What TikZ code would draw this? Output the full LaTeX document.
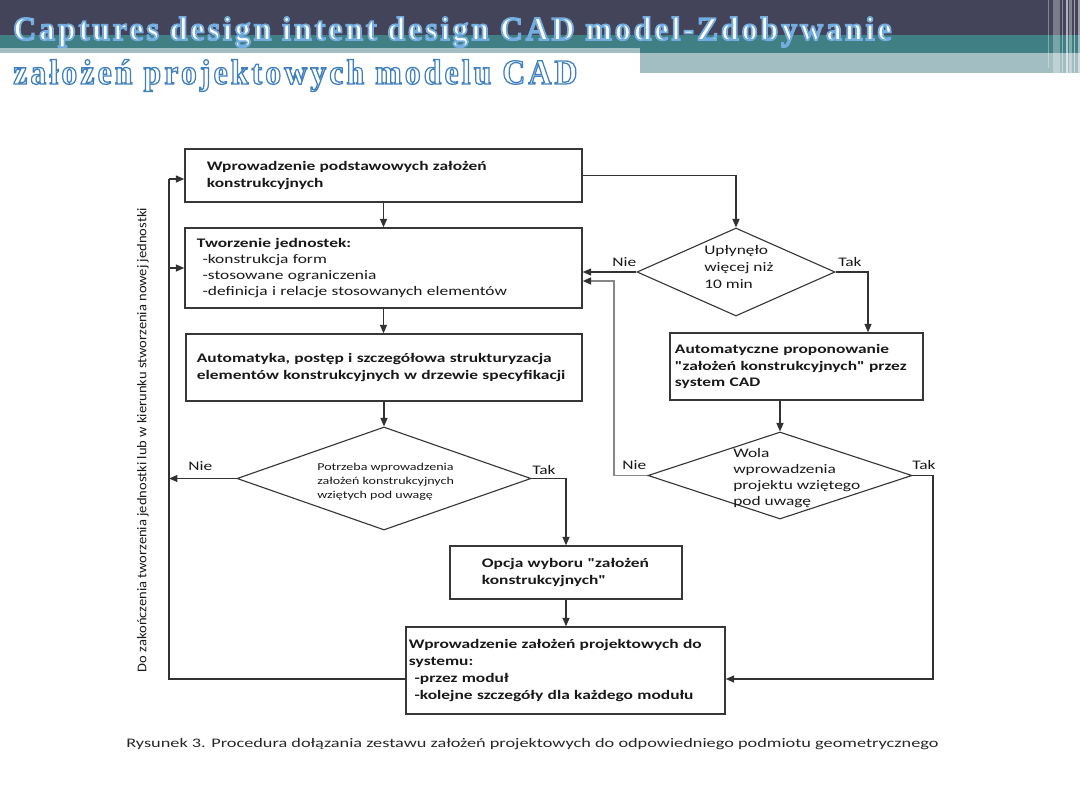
\documentclass[tikz,border=0pt]{standalone}
\usepackage{fontspec}
\usepackage{graphicx}
\setmainfont{Carlito}
\newfontfamily\calib[FakeStretch=1.33]{Carlito}
\newfontfamily\tnrc[FakeStretch=0.92,LetterSpace=9]{Liberation Serif}
\usetikzlibrary{arrows.meta,shapes.geometric}
\definecolor{darkband}{RGB}{67,67,89}
\definecolor{tealband}{RGB}{64,127,132}
\definecolor{lightband}{RGB}{163,190,194}
\definecolor{linec}{RGB}{50,50,50}
\definecolor{boxc}{RGB}{55,55,55}
\definecolor{greyline}{RGB}{135,135,135}
\definecolor{txt}{RGB}{25,25,25}
% outlined text: #1 stroke colour as "r g b", #2 stroke width (bp), #3 text
\newcommand\outl[3]{{\special{pdf:literal direct 2 Tr #2 w #1 RG}#3\special{pdf:literal direct 0 Tr}}}
\begin{document}
\begin{tikzpicture}[x=0.025cm,y=-0.025cm,
  box/.style={draw=boxc, line width=1pt, rectangle, inner ysep=0pt, align=left,
    font=\calib\bfseries\fontsize{9.3}{12}\selectfont, text=txt},
  dia/.style={diamond, draw=boxc, line width=0.8pt, inner sep=0pt},
  dtext/.style={anchor=north west, inner sep=0pt, align=left, text=txt,
    font=\calib\fontsize{9.3}{12}\selectfont},
  lbl/.style={anchor=base west, inner sep=0pt, text=txt, font=\calib\fontsize{9.3}{12}\selectfont},
  arr/.style={draw=linec, line width=0.9pt, -{Triangle[length=6pt,width=5pt]}},
  plain/.style={draw=linec, line width=0.9pt},
  arrg/.style={draw=greyline, line width=1.2pt, -{Triangle[length=6pt,width=5pt,color=linec]}},
  ttl/.style={anchor=base west, inner sep=0pt, text=white}
]
\useasboundingbox (0,0) rectangle (1080,810);
\fill[white] (0,0) rectangle (1080,810);
% header
\fill[darkband] (0,0) rectangle (1080,35);
\fill[tealband] (0,35) rectangle (1080,53);
\fill[lightband] (0,48) rectangle (640,53);
\fill[lightband] (640,53) rectangle (1080,73);
\fill[white,opacity=0.35] (1047.5,0) rectangle (1049,68);
\fill[white,opacity=0.3] (1053,0) rectangle (1060,73);
\fill[white,opacity=0.4] (1061.5,0) rectangle (1063,73);
\fill[white,opacity=0.6] (1066,0) rectangle (1067.5,73);
\fill[white,opacity=0.35] (1069,0) rectangle (1072,73);
\fill[white,opacity=0.5] (1073.5,0) rectangle (1075,73);
\fill[white,opacity=0.5] (1078,0) rectangle (1080,73);
\node (title1) [ttl, font=\tnrc\bfseries\fontsize{23.7}{28}\selectfont] at (13,40)
  {\resizebox{21.95cm}{\height}{\outl{0.45 0.68 0.88}{1.2}{Captures design intent design CAD model-Zdobywanie}}};
\node (title2) [ttl, font=\tnrc\bfseries\fontsize{25}{30}\selectfont] at (13,84)
  {\resizebox{14.1cm}{\height}{\outl{0.25 0.50 0.75}{0.9}{założeń projektowych modelu CAD}}};
% boxes
\node[box, minimum width=9.925cm, minimum height=1.325cm, text width=8.825cm, inner xsep=0.55cm] (b1) at (383.5,175.5)
  {Wprowadzenie podstawowych założeń\\konstrukcyjnych};
\node[box, minimum width=9.925cm, minimum height=2cm, text width=9.325cm, inner xsep=0.3cm,
  font=\calib\fontsize{9.3}{11.6}\selectfont] (b2) at (383.5,268)
  {\textbf{Tworzenie jednostek:}\\\hspace*{4pt}-konstrukcja form\\\hspace*{4pt}-stosowane ograniczenia\\\hspace*{4pt}-definicja i relacje stosowanych elementów};
\node[box, minimum width=9.9cm, minimum height=1.675cm, text width=9.35cm, inner xsep=0.275cm] (b3) at (384,367.5)
  {\mbox{Automatyka, postęp i szczegółowa strukturyzacja}\\\mbox{elementów konstrukcyjnych w drzewie specyfikacji}};
\node[box, minimum width=5.8cm, minimum height=1.325cm, text width=4.2cm, inner xsep=0.8cm] (b4) at (566,572.5)
  {\mbox{Opcja wyboru "założeń}\\konstrukcyjnych"};
\node[box, minimum width=7.975cm, minimum height=2.175cm, text width=7.825cm, inner xsep=0.075cm] (b5) at (565.5,670.5)
  {\mbox{Wprowadzenie założeń projektowych do}\\systemu:\\\hspace*{4pt}-przez moduł\\\hspace*{4pt}\mbox{-kolejne szczegóły dla każdego modułu}};
\node[box, minimum width=6.325cm, minimum height=1.675cm, text width=6.075cm, inner xsep=0.125cm] (b6) at (796.5,366.5)
  {Automatyczne proponowanie\\\mbox{"założeń konstrukcyjnych" przez}\\system CAD};
% diamonds
\node[dia, minimum width=7.35cm, minimum height=2.575cm] (d1) at (384,478.5) {};
\node[dia, minimum width=4.95cm, minimum height=2.2cm] (d2) at (736,272) {};
\node[dia, minimum width=6.6cm, minimum height=2.175cm] (d3) at (780,475.5) {};
\node[dtext, font=\calib\fontsize{7.5}{10}\selectfont] (d1t) at (317,463)
  {Potrzeba wprowadzenia\\założeń konstrukcyjnych\\wziętych pod uwagę};
\node[dtext] (d2t) at (704,245) {Upłynęło\\więcej niż\\10 min};
\node[dtext, font=\calib\fontsize{9.3}{11.4}\selectfont] (d3t) at (733,448)
  {Wola\\wprowadzenia\\projektu wziętego\\pod uwagę};
% labels
\node[lbl] (n1) at (188,470) {Nie};
\node[lbl] (k1) at (532,474) {Tak};
\node[lbl] (n2) at (612,266) {Nie};
\node[lbl] (k2) at (838,266) {Tak};
\node[lbl] (n3) at (622,469) {Nie};
\node[lbl] (k3) at (912,469) {Tak};
% side text and caption
\node (side) [rotate=90, inner sep=0pt, text=txt, font=\fontsize{9.5}{11}\selectfont] at (143,440)
  {\resizebox{11.6cm}{\height}{Do zakończenia tworzenia jednostki lub w kierunku stworzenia nowej jednostki}};
\node (cap) [anchor=base west, inner sep=0pt, text={rgb,255:red,40;green,40;blue,40}, font=\fontsize{9.3}{11}\selectfont] at (126,747)
  {\resizebox{20.3cm}{\height}{Rysunek 3. Procedura dołązania zestawu założeń projektowych do odpowiedniego podmiotu geometrycznego}};
% coordinates
\coordinate (lt) at (169,179);
\coordinate (lb) at (169,679);
\coordinate (g) at (614,281);
\coordinate (t2) at (868,272);
\coordinate (t3) at (933,679);
% connectors
\draw[arr] (b1.east) -| (d2.north);
\draw[arr] (b1.south) -- (b2.north);
\draw[arr] (b2.south) -- (b2.south |- b3.north);
\draw[arr] (b3.south) -- (b3.south |- d1.north);
\draw[arr] (d1.west) -- (d1.west -| lt);
\draw[arr] (d1.east) -| (b4.north);
\draw[arr] (b4.south) -- (b4.south |- b5.north);
\draw[plain] (b5.west |- lb) -- (lb) -- (lt);
\draw[arr] (lt) -- (lt -| b1.west);
\draw[arr] (lt |- b2.west) -- (b2.west);
\draw[arr] (d2.west) -- (d2.west -| b2.east);
\draw[arrg] (d3.west) -| (g) -- (g -| b2.east);
\draw[arr] (d2.east) -- (t2) -- (t2 |- b6.north);
\draw[arr] (d3.north |- b6.south) -- (d3.north);
\draw[arr] (d3.east) -| (t3) -- (t3 -| b5.east);
\end{tikzpicture}
\end{document}
